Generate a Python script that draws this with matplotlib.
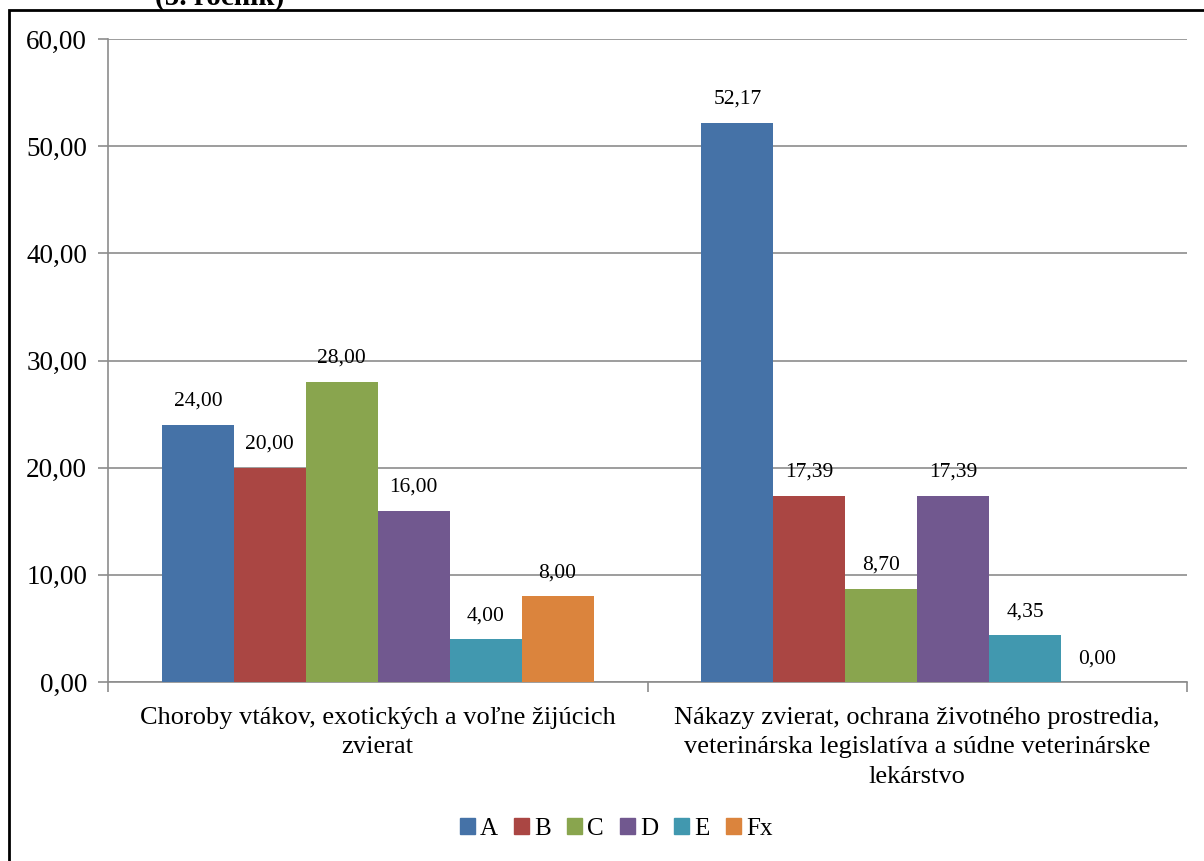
import matplotlib
matplotlib.use("Agg")
import matplotlib.pyplot as plt
import numpy as np
from matplotlib.patches import Rectangle

plt.rcParams['font.family'] = ['Liberation Serif', 'DejaVu Serif']

categories = ["Choroby vtákov, exotických a voľne žijúcich\nzvierat",
              "Nákazy zvierat, ochrana životného prostredia,\nveterinárska legislatíva a súdne veterinárske\nlekárstvo"]
series_names = ["A", "B", "C", "D", "E", "Fx"]
values = {
    "A": [24.00, 52.17],
    "B": [20.00, 17.39],
    "C": [28.00, 8.70],
    "D": [16.00, 17.39],
    "E": [4.00, 4.35],
    "Fx": [8.00, 0.00],
}
colors = ["#4572A7", "#AA4643", "#89A54E", "#71588F", "#4198AF", "#DB843D"]
yticks = [0, 10, 20, 30, 40, 50, 60]

fig = plt.figure(figsize=(12.04, 8.61), dpi=100)
ax = fig.add_axes([108/1204, 1-682/861, (1187-108)/1204, (682-39)/861])

n = len(series_names)
group_w = 0.8
bw = group_w / n
x = np.arange(len(categories))
for i, (name, col) in enumerate(zip(series_names, colors)):
    pos = x - group_w/2 + bw*(i+0.5)
    ax.bar(pos, values[name], width=bw, color=col, label=name, zorder=3)
    for p, v in zip(pos, values[name]):
        ax.annotate(f"{v:.2f}".replace(".", ","), (p, v), xytext=(0, 10),
                    textcoords="offset points", ha="center", va="bottom", fontsize=15.5)

ax.set_xlim(-0.5, len(categories)-0.5)
ax.set_ylim(0, 60)
ax.set_yticks(yticks)
ax.set_yticklabels([f"{t:.2f}".replace(".", ",") for t in yticks], fontsize=19.5)
ax.yaxis.grid(True, color="#8c8c8c", linewidth=1.2, zorder=0)
ax.set_axisbelow(True)
ax.set_xticks([-0.5, 0.5, 1.5])
ax.set_xticklabels([])
ax.tick_params(axis="x", direction="out", length=7, color="#8c8c8c", width=1.2)
ax.tick_params(axis="y", direction="out", length=7, color="#8c8c8c", width=1.2, pad=8)
for s in ["top", "right"]:
    ax.spines[s].set_visible(False)
for s in ["left", "bottom"]:
    ax.spines[s].set_color("#8c8c8c")
    ax.spines[s].set_linewidth(1.2)

for xi, lab in zip(x, categories):
    ax.text(xi, -2.3, lab, ha="center", va="top", fontsize=19,
            linespacing=1.46, transform=ax.transData)

handles = [Rectangle((0, 0), 1, 1, color=c) for c in colors]
fig.legend(handles, series_names, loc="center", bbox_to_anchor=(616/1204, 1-829/861),
           ncol=6, frameon=False, fontsize=18, handlelength=0.6, handleheight=0.6,
           handletextpad=0.2, columnspacing=0.65)

# outer chart border (partially visible)
fig.add_artist(Rectangle((8.5/1204, -0.05), 1.1, 1-10.5/861+0.05, transform=fig.transFigure,
                         fill=False, edgecolor="black", linewidth=2))
fig.text(220/1204, 1-5/861, "(5. ročník)", ha="center", va="baseline",
         fontsize=21, fontweight="bold")

fig.savefig("out.png", dpi=100)
